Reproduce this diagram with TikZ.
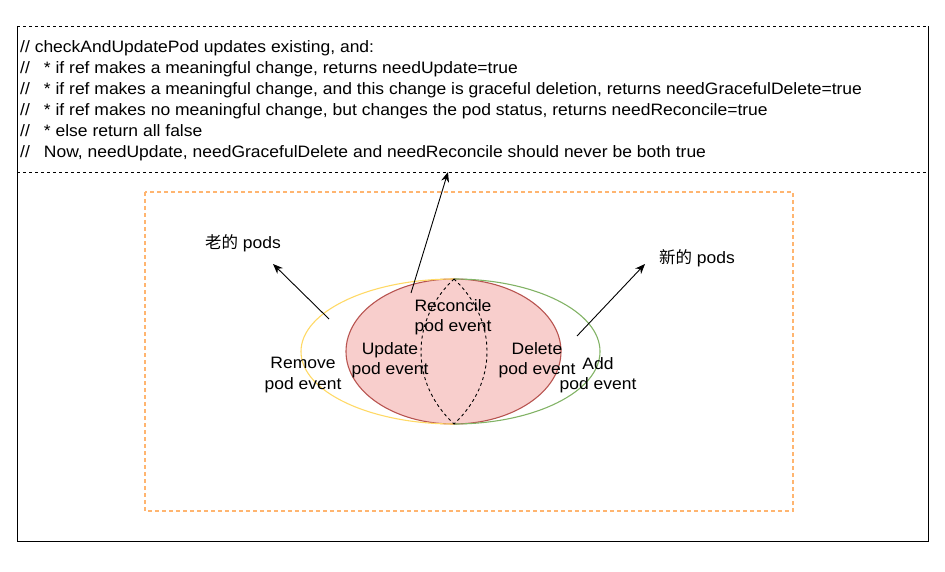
\documentclass[tikz,border=0pt]{standalone}
\usepackage{fontspec}
\setmainfont{Liberation Sans}[FakeStretch=1.06]
\newfontfamily\cjk{Noto Sans CJK SC}
\usetikzlibrary{shapes.geometric,arrows.meta}
\definecolor{jaune}{HTML}{FFD966}
\definecolor{vert}{HTML}{82B366}
\definecolor{rougefond}{HTML}{F8CECC}
\definecolor{rougetrait}{HTML}{B85450}
\definecolor{orangeclair}{HTML}{FFB570}

\begin{document}
\begin{tikzpicture}[x=1pt,y=-1pt]
% Styles (MODIFIABLES)
\tikzstyle{fleche}=[-{Stealth[length=10pt,width=8pt]},line width=0.9pt]
\tikzstyle{texte}=[font=\fontsize{16.5}{20.5}\selectfont,align=center,inner sep=0pt]
\tikzstyle{pointille}=[dashed,line width=0.9pt,dash pattern=on 3pt off 3pt]
\tikzstyle{bord}=[line width=1.1pt]
% Dimensions (MODIFIABLES)
\def\DemiHauteur{72.5}
\useasboundingbox (0,0) rectangle (945,572);
% Cadres
\draw[line width=0.9pt] (17,26) -- (17,541) -- (928,541) -- (928,26);
\draw[pointille] (17,26) -- (928,26);
\draw[pointille] (17,172) -- (928,172);
\draw[orangeclair,bord,dash pattern=on 4pt off 3pt] (145,192) rectangle (793,511);
% Commentaire
\node[anchor=north west,align=left,inner sep=0pt,font=\fontsize{16.5}{21}\selectfont] (commentaire) at (20,40) {%
// checkAndUpdatePod updates existing, and:\\
//\hspace*{14pt}* if ref makes a meaningful change, returns needUpdate=true\\
//\hspace*{14pt}* if ref makes a meaningful change, and this change is graceful deletion, returns needGracefulDelete=true\\
//\hspace*{14pt}* if ref makes no meaningful change, but changes the pod status, returns needReconcile=true\\
//\hspace*{14pt}* else return all false\\
//\hspace*{14pt}Now, needUpdate, needGracefulDelete and needReconcile should never be both true};
% Ensembles
\node[ellipse,draw=rougetrait,fill=rougefond,bord,minimum width=215pt,minimum height=145pt,inner sep=0pt] (rouge) at (453.5,351.5) {};
\coordinate (sommet) at (454,279);
\coordinate (base) at (454,424);
\draw[jaune,bord] (sommet) arc[start angle=-90,end angle=-270,x radius=153,y radius=\DemiHauteur];
\draw[vert,bord] (sommet) arc[start angle=-90,end angle=90,x radius=146,y radius=\DemiHauteur];
\draw[pointille] (sommet) .. controls (410,320) and (410,383) .. (base);
\draw[pointille] (sommet) .. controls (498,320) and (498,383) .. (base);
% Noeuds
\node[texte] (reconcile) at (453,317) {Reconcile\\pod event};
\node[texte] (update) at (390,360) {Update\\pod event};
\node[texte] (delete) at (537,360) {Delete\\pod event};
\node[texte] (remove) at (303,375) {Remove\\pod event};
\node[texte] (add) at (598,375) {Add\\pod event};
\node[texte] (vieux) at (243,243) {{\cjk 老的} pods};
\node[texte] (nouveaux) at (697,258) {{\cjk 新的} pods};
% Arcs
\coordinate (departG) at (329,319);
\coordinate (arriveeG) at (273,264);
\coordinate (departD) at (577,336);
\coordinate (arriveeD) at (645,264);
\coordinate (departM) at (411,293);
\coordinate (arriveeM) at (448,172);
\draw[fleche] (departG) -- (arriveeG);
\draw[fleche] (departD) -- (arriveeD);
\draw[fleche] (departM) -- (arriveeM);
\end{tikzpicture}
\end{document}
